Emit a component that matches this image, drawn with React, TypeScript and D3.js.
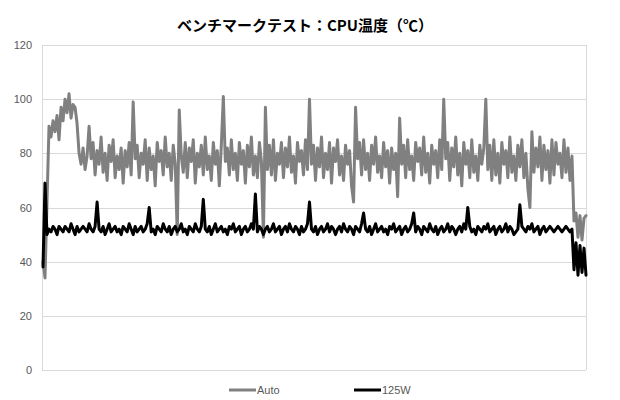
import React from "react";
import * as d3 from "d3";

const title = "ベンチマークテスト：CPU温度（℃）";
const seriesNames = ["Auto", "125W"];
const yTicks = [0, 20, 40, 60, 80, 100, 120];

const autoValues = [
  40, 34, 62, 90, 86, 92, 88, 94, 85, 97,
  92, 100, 95, 102, 93, 98, 97, 91, 80, 76,
  82, 74, 79, 90, 78, 84, 72, 81, 76, 86,
  73, 80, 70, 83, 77, 85, 71, 79, 74, 82,
  69, 81, 75, 84, 72, 99, 78, 83, 71, 80,
  76, 85, 70, 82, 74, 79, 68, 84, 77, 81,
  72, 86, 75, 80, 70, 83, 76, 50, 96, 79,
  73, 84, 71, 82, 77, 85, 69, 80, 75, 83,
  72, 86, 74, 79, 70, 84, 76, 81, 68, 83,
  101, 77, 82, 72, 85, 74, 80, 70, 84, 76,
  81, 69, 83, 75, 86, 72, 79, 71, 84, 77,
  49, 97, 74, 83, 72, 85, 70, 80, 76, 84,
  71, 82, 75, 86, 73, 79, 69, 84, 77, 81,
  72, 85, 74, 100, 76, 83, 70, 82, 75, 86,
  71, 80, 74, 84, 69, 82, 77, 85, 72, 79,
  70, 83, 76, 81, 68, 62, 97, 78, 84, 72,
  85, 74, 80, 70, 83, 76, 86, 73, 79, 71,
  84, 75, 81, 69, 82, 74, 80, 64, 93, 76,
  83, 71, 85, 74, 79, 70, 84, 77, 82, 72,
  86, 73, 80, 69, 83, 76, 81, 71, 85, 74,
  100, 78, 84, 70, 82, 75, 86, 72, 80, 68,
  84, 76, 81, 71, 85, 73, 79, 70, 83, 76,
  82, 100, 74, 83, 70, 85, 72, 80, 69, 84,
  76, 81, 71, 86, 73, 79, 70, 83, 75, 85,
  71, 80, 67, 60, 88, 73, 82, 75, 86, 70,
  83, 74, 81, 69, 85, 72, 84, 76, 80, 71,
  85, 73, 82, 70, 79, 55, 58, 49, 57, 48,
  56, 57,
];

const w125Values = [
  38, 69, 50, 52, 51, 53, 52, 50, 53, 52,
  51, 53, 52, 51, 54, 52, 50, 53, 51, 52,
  53, 52, 51, 54, 52, 51, 53, 62, 52, 51,
  53, 50, 52, 54, 51, 52, 53, 51, 52, 50,
  53, 52, 51, 54, 52, 50, 53, 51, 52, 53,
  51, 52, 54, 60, 51, 52, 50, 53, 52, 51,
  54, 52, 51, 53, 50, 52, 53, 51, 52, 54,
  51, 52, 50, 53, 52, 51, 54, 52, 51, 53,
  63, 52, 51, 53, 50, 52, 54, 51, 52, 53,
  51, 52, 50, 53, 52, 54, 51, 52, 53, 50,
  52, 53, 51, 52, 54, 52, 65, 51, 53, 52,
  50, 52, 53, 51, 52, 54, 51, 52, 53, 50,
  52, 53, 51, 54, 52, 51, 53, 52, 50, 53,
  51, 52, 54, 62, 52, 51, 53, 50, 52, 53,
  51, 52, 54, 51, 53, 52, 50, 52, 53, 51,
  54, 52, 51, 53, 52, 50, 53, 52, 51, 54,
  58, 52, 51, 53, 50, 52, 54, 51, 52, 53,
  51, 52, 50, 53, 52, 54, 51, 52, 53, 50,
  52, 53, 51, 52, 54, 58, 51, 53, 52, 50,
  53, 52, 51, 54, 52, 51, 53, 50, 52, 53,
  51, 52, 54, 51, 53, 52, 50, 52, 53, 51,
  54, 52, 60, 53, 51, 52, 50, 53, 52, 51,
  53, 52, 54, 51, 52, 53, 50, 52, 53, 51,
  52, 54, 51, 53, 52, 50, 51, 52, 61, 53,
  52, 51, 53, 52, 54, 51, 52, 53, 50, 52,
  53, 51, 52, 53, 52, 51, 52, 53, 52, 51,
  52, 53, 52, 51, 52, 37, 47, 35, 46, 36,
  45, 35,
];

const seriesColors = ["#808080", "#000000"];

export default function App() {
  const W = 620;
  const H = 400;
  const left = 42;
  const right = 586;
  const top = 45;
  const bottom = 370;

  const n = autoValues.length;
  const x = d3.scaleLinear().domain([0, n - 1]).range([left + 1, right]);
  const y = d3.scaleLinear().domain([0, 120]).range([bottom, top]);

  const line = d3
    .line<number>()
    .x((_, i) => x(i))
    .y((d) => y(d));

  const all = [autoValues, w125Values];

  const legendX = [229, 354];

  return (
    <svg
      width={W}
      height={H}
      style={{ position: "absolute", left: 0, top: 0, background: "#fff" }}
    >
      <rect x={0} y={0} width={W} height={H} fill="#fff" />
      <text
        x={305}
        y={31}
        textAnchor="middle"
        fontFamily="'Noto Sans CJK JP', sans-serif"
        fontWeight="bold"
        fontSize={15}
        fill="#000"
      >
        {title}
      </text>
      {yTicks.map((t) => (
        <g key={t}>
          <line
            x1={left}
            x2={right}
            y1={Math.round(y(t)) + 0.5}
            y2={Math.round(y(t)) + 0.5}
            stroke="#d9d9d9"
            strokeWidth={1}
          />
          <text
            x={32}
            y={y(t) + 4}
            textAnchor="end"
            fontFamily="'Liberation Sans', Arial, sans-serif"
            fontSize={11}
            fill="#595959"
          >
            {t}
          </text>
        </g>
      ))}
      <line x1={left + 0.5} x2={left + 0.5} y1={top} y2={bottom} stroke="#d9d9d9" />
      <line x1={right + 0.5} x2={right + 0.5} y1={top} y2={bottom} stroke="#d9d9d9" />
      {all.map((vals, k) => (
        <path
          key={k}
          d={line(vals) || ""}
          fill="none"
          stroke={seriesColors[k]}
          strokeWidth={3}
          strokeLinejoin="round"
          strokeLinecap="round"
        />
      ))}
      {seriesNames.map((name, k) => (
        <g key={name}>
          <line
            x1={legendX[k]}
            x2={legendX[k] + 27}
            y1={390}
            y2={390}
            stroke={seriesColors[k]}
            strokeWidth={3}
          />
          <text
            x={legendX[k] + 28}
            y={394}
            fontFamily="'Liberation Sans', Arial, sans-serif"
            fontSize={11}
            fill="#595959"
          >
            {name}
          </text>
        </g>
      ))}
    </svg>
  );
}
